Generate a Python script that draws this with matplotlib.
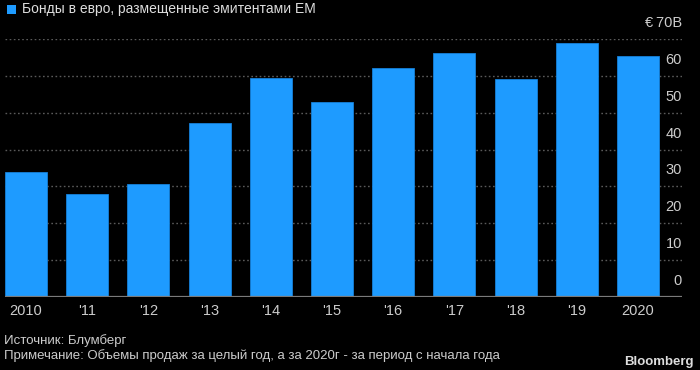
import matplotlib
matplotlib.use("Agg")
import matplotlib.pyplot as plt
import matplotlib.transforms as mtransforms

years = ["2010", "'11", "'12", "'13", "'14", "'15", "'16", "'17", "'18", "'19", "2020"]
values = [33.8, 28.0, 30.7, 47.2, 59.5, 53.0, 62.0, 66.2, 59.2, 68.8, 65.5]
y_ticks = [0, 10, 20, 30, 40, 50, 60, 70]
y_labels = ["0", "10", "20", "30", "40", "50", "60", "€\u200970B"]
title = "Бонды в евро, размещенные эмитентами EM"
source = "Источник: Блумберг"
note = "Примечание: Объемы продаж за целый год, а за 2020г - за период с начала года"

fam = ["Liberation Sans", "DejaVu Sans"]

BLUE = "#1E9BFF"
BG = "black"
TXT = "#cccccc"

fig = plt.figure(figsize=(7, 3.7), dpi=100, facecolor=BG)
W, H = 700, 370
left, right, bottom, top = 5, 682, 297, 39
ax = fig.add_axes([left / W, 1 - bottom / H, (right - left) / W, (bottom - top) / H])
ax.set_facecolor(BG)

x = list(range(len(years)))
ax.bar(x, values, width=0.686, color=BLUE, edgecolor="#1580d8", linewidth=0.6, zorder=3)
ax.set_xlim(-0.343, 10.72)
ax.set_ylim(0, 70)

for v in y_ticks[1:]:
    ax.axhline(v, color="#5a5a5a", linestyle=(0, (1.2, 1.8)), linewidth=1.0, zorder=1)
ax.axhline(0, color="#7a7a7a", linewidth=1.6, zorder=4)

for s in ax.spines.values():
    s.set_visible(False)
ax.set_yticks([])
ax.set_xticks(x)
ax.set_xticklabels(years, fontfamily=fam, fontsize=10.5, color=TXT)
ax.tick_params(axis="x", length=0, pad=5)

trans = mtransforms.blended_transform_factory(ax.transAxes, ax.transData)
off = mtransforms.offset_copy(trans, fig=fig, x=0, y=9, units="dots")
for v, lab in zip(y_ticks, y_labels):
    ax.text(1.0, v, lab, transform=off, ha="right", va="bottom",
            fontsize=10.5, color=TXT, family=fam, zorder=5)

fig.patches.append(matplotlib.patches.Rectangle((7 / W, 1 - 13.5 / H), 9 / W, 9 / H,
                   transform=fig.transFigure, facecolor=BLUE, edgecolor="none"))
fig.text(22 / W, 1 - 9 / H, title, ha="left", va="center", fontsize=10,
         color="#dddddd", family=fam)
fig.text(4 / W, 1 - 341 / H, source, ha="left", va="center", fontsize=9.5,
         color=TXT, family=fam)
fig.text(4 / W, 1 - 356 / H, note, ha="left", va="center", fontsize=9.5,
         color=TXT, family=fam)
fig.text(694 / W, 1 - 361.5 / H, "Bloomberg", ha="right", va="center", fontsize=9.5,
         color="#dddddd", family=fam, fontweight="bold")

fig.savefig("out.png", dpi=100, facecolor=BG)
